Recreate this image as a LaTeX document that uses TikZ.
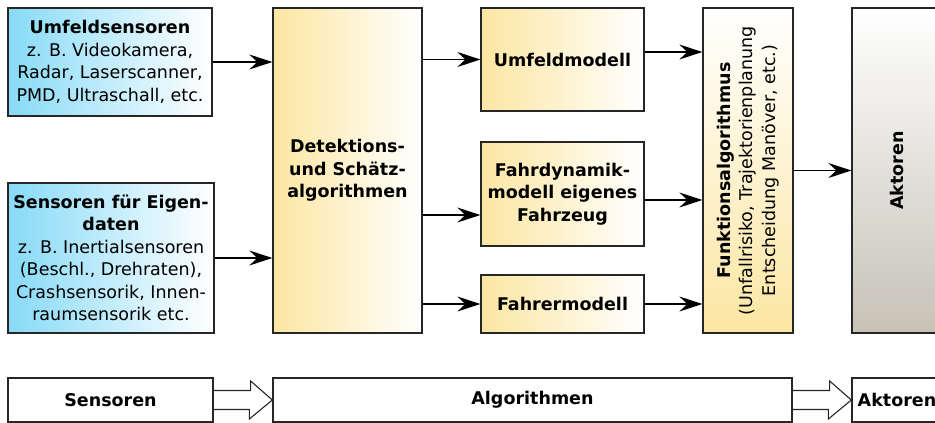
\documentclass[tikz,border=0pt]{standalone}
\usepackage{fontspec}
\setmainfont{DejaVu Sans}
\usetikzlibrary{arrows.meta}

\definecolor{sensorblue}{RGB}{135,218,247}
\definecolor{algoyellow}{RGB}{252,230,162}
\definecolor{aktorgray}{RGB}{198,194,182}

\tikzset{
  box/.style={draw=black!85, line width=1.3pt, rectangle, align=center, inner sep=2pt},
  sensorbox/.style={box, left color=sensorblue, right color=white},
  algobox/.style={box, left color=algoyellow, right color=white},
  plainbox/.style={box, fill=white},
  conn/.style={line width=1.1pt, -{Stealth[length=23pt, width=15pt, inset=8pt]}},
  blockarrow/.style={line width=1.1pt, draw=black!85, line join=miter},
}

\begin{document}
\begin{tikzpicture}[x=1pt, y=-1pt, font=\fontsize{17.5}{22.5}\selectfont]

\def\width{935}
\def\height{423}

\path [use as bounding box] (0,0) rectangle (\width,\height);
\clip (0,0) rectangle (\width,\height);

% SENSORS
\node [sensorbox, minimum width=204, minimum height=108] (us) at (110,62)
  {\textbf{Umfeldsensoren}\\z. B. Videokamera,\\Radar, Laserscanner,\\PMD, Ultraschall, etc.};
\node [sensorbox, minimum width=206, minimum height=150] (eig) at (111,258)
  {\textbf{Sensoren für Eigen-}\\\textbf{daten}\\z. B. Inertialsensoren\\(Beschl., Drehraten),\\Crashsensorik, Innen-\\raumsensorik etc.};

% ALGORITHMS
\node [algobox, minimum width=149, minimum height=325] (det) at (347.5,170.5)
  {\textbf{Detektions-}\\\textbf{und Schätz-}\\\textbf{algorithmen}};
\node [algobox, minimum width=163, minimum height=103] (um) at (562.5,59.5) {\textbf{Umfeldmodell}};
\node [algobox, minimum width=163, minimum height=104] (fd) at (562.5,194)
  {\textbf{Fahrdynamik-}\\\textbf{modell eigenes}\\\textbf{Fahrzeug}};
\node [algobox, minimum width=163, minimum height=58] (fm) at (562.5,304) {\textbf{Fahrermodell}};
\node [box, top color=white, bottom color=algoyellow, minimum width=90, minimum height=325] (fa) at (748,170.5)
  {\rotatebox{90}{\begin{tabular}{@{}c@{}}\textbf{Funktionsalgorithmus}\\(Unfallrisiko, Trajektorienplanung\\Entscheidung Manöver, etc.)\end{tabular}}};

% ACTUATORS
\node [box, top color=white, bottom color=aktorgray, minimum width=90, minimum height=325] (akt) at (897,170.5)
  {\rotatebox{90}{\textbf{Aktoren}}};

% CONNECTIONS
\draw [conn] (us.east) -- (us.east -| det.west);
\draw [conn] (eig.east) -- (eig.east -| det.west);
\draw [conn] (um.west -| det.east) -- (um.west);
\draw [conn] ([yshift=-21pt]fd.west -| det.east) -- ([yshift=-21pt]fd.west);
\draw [conn] (fm.west -| det.east) -- (fm.west);
\draw [conn] ([yshift=7.5pt]um.east) -- ([yshift=7.5pt]um.east -| fa.west);
\draw [conn] ([yshift=-6pt]fd.east) -- ([yshift=-6pt]fd.east -| fa.west);
\draw [conn] (fm.east) -- (fm.east -| fa.west);
\draw [conn] (fa.east) -- (akt.west);

% OVERVIEW
\node [plainbox, minimum width=205, minimum height=44] (sen) at (110.5,400) {\textbf{Sensoren}};
\node [plainbox, minimum width=519, minimum height=44] (alg) at (532.5,400) {\textbf{Algorithmen}};
\node [plainbox, minimum width=90, minimum height=44] (akt2) at (897,400) {\textbf{Aktoren}};

\draw [blockarrow] (sen.east) ++(0,-9.5) -- ++(37,0) -- ++(0,-9.5) -- (alg.west)
  -- ++(-23,19) -- ++(0,-9.5) -- ++(-37,0);
\draw [blockarrow] (alg.east) ++(0,-9.5) -- ++(37,0) -- ++(0,-9.5) -- (akt2.west)
  -- ++(-23,19) -- ++(0,-9.5) -- ++(-37,0);

\end{tikzpicture}
\end{document}
